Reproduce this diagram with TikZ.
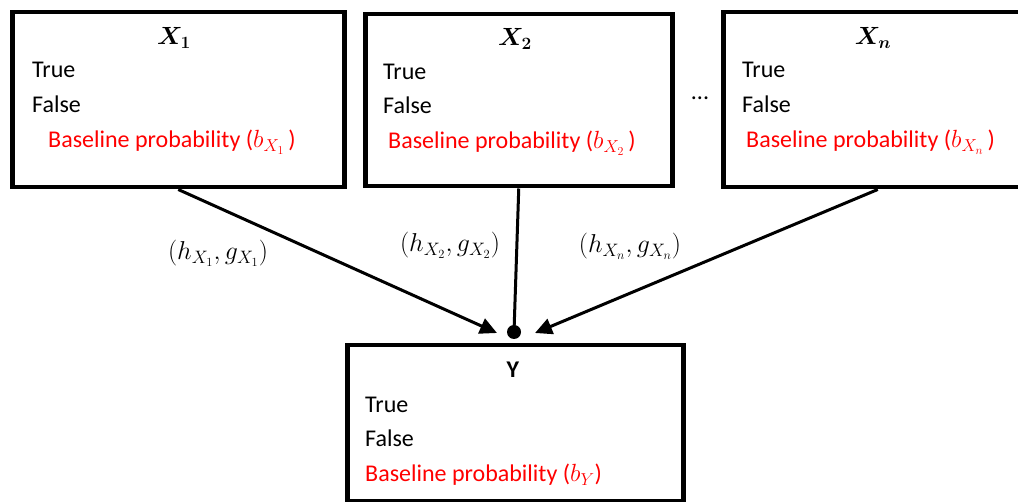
\documentclass[tikz,border=0pt]{standalone}
\usepackage{amsmath}
\usepackage{bm}
\usepackage{graphicx}
\usepackage{fontspec}
\setmainfont{Carlito}
\usetikzlibrary{arrows.meta}
\begin{document}
\begin{tikzpicture}[x=1pt,y=-1pt,
  box/.style={draw=black,line width=4.5pt,rectangle,inner sep=0pt,anchor=north west},
  txt/.style={anchor=base west,inner sep=0pt,font=\fontsize{24}{28}\selectfont},
  redtxt/.style={txt,text=red},
  title/.style={anchor=base,inner sep=0pt,font=\fontsize{24}{28}\selectfont},
  lbl/.style={anchor=base,inner sep=0pt,font=\fontsize{24}{28}\selectfont},
  conn/.style={line width=3pt},
  arr/.style={conn,-{Triangle[length=17pt,width=16pt]}}]
\useasboundingbox (0,0) rectangle (1018,502);
\clip (0,0) rectangle (1018,502);
% boxes
\node[box,minimum width=332pt,minimum height=175pt] (x1) at (10,10) {};
\node[box,minimum width=307pt,minimum height=172pt] (x2) at (363,12) {};
\node[box,minimum width=309pt,minimum height=175pt] (xn) at (721,10) {};
\node[box,minimum width=336pt,minimum height=156pt] (y) at (345,343) {};
% X1 texts
\node[title] (x1t) at (174,45) {$\bm{X_1}$};
\node[txt] (x1a) at (32,78) {True};
\node[txt] (x1b) at (32,113) {False};
\node[redtxt] (x1c) at (48,148) {Baseline probability ($b_{X_1}$\,)};
% X2 texts
\node[title] (x2t) at (515,46) {$\bm{X_2}$};
\node[txt] (x2a) at (383,80) {True};
\node[txt] (x2b) at (383,114) {False};
\node[redtxt] (x2c) at (388,149) {Baseline probability ($b_{X_2}$\,)};
% Xn texts
\node[title] (xnt) at (873,45) {$\bm{X_n}$};
\node[txt] (xna) at (742,78) {True};
\node[txt] (xnb) at (742,113) {False};
\node[redtxt] (xnc) at (746,148) {Baseline probability ($b_{X_n}$\,)};
% dots
\node[title] (dots) at (700,100) {...};
% Y texts
\node[title] (yt) at (513,378) {\textbf{Y}};
\node[txt] (ya) at (365,413) {True};
\node[txt] (yb) at (365,447) {False};
\node[redtxt] (yc) at (365,482) {Baseline probability ($b_{Y}$)};
% connectors
\coordinate (t1) at (497,333);
\coordinate (tn) at (535,333);
\coordinate (dot) at (514,332);
\draw[arr] (x1.south) -- (t1);
\draw[arr] (xn.south) -- (tn);
\draw[conn] (x2.south) -- (dot);
\fill (dot) circle (7pt);
% labels
\node[lbl] (l1) at (218,260) {\scalebox{1.04}{$(h_{X_1},g_{X_1})$}};
\node[lbl] (l2) at (450,252) {\scalebox{1.04}{$(h_{X_2},g_{X_2})$}};
\node[lbl] (ln) at (630,253) {\scalebox{1.04}{$(h_{X_n},g_{X_n})$}};
\end{tikzpicture}
\end{document}
